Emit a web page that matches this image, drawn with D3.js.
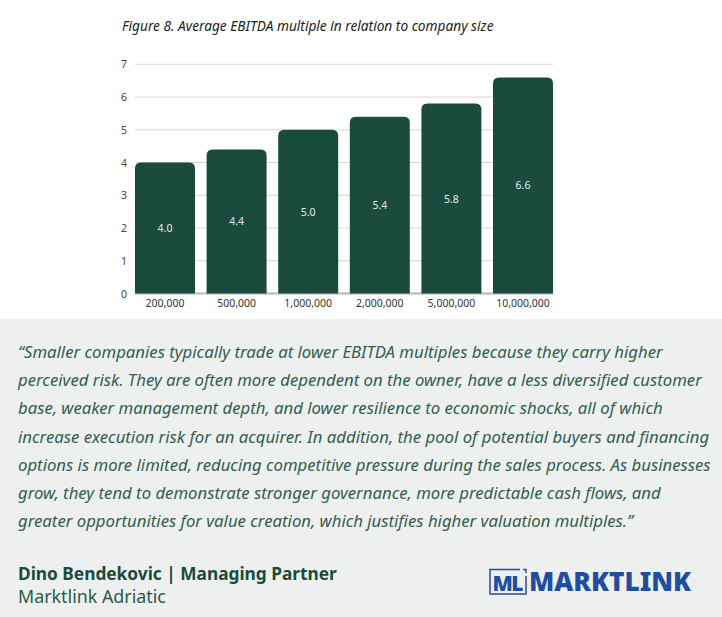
<!DOCTYPE html>
<html>
<head>
<meta charset="utf-8">
<script src="https://cdn.jsdelivr.net/npm/d3@7"></script>
<style>
  body { margin: 0; background: #fff; }
  svg { display: block; }
</style>
</head>
<body>
<svg id="chart" width="722" height="617"></svg>
<script>
// chart data
var sizes = ["200,000", "500,000", "1,000,000", "2,000,000", "5,000,000", "10,000,000"]
var multiples = [4.0, 4.4, 5.0, 5.4, 5.8, 6.6]
var yTicks = [0, 1, 2, 3, 4, 5, 6, 7]

var quoteLines = [
  "\u201cSmaller companies typically trade at lower EBITDA multiples because they carry higher",
  "perceived risk. They are often more dependent on the owner, have a less diversified customer",
  "base, weaker management depth, and lower resilience to economic shocks, all of which",
  "increase execution risk for an acquirer. In addition, the pool of potential buyers and financing",
  "options is more limited, reducing competitive pressure during the sales process. As businesses",
  "grow, they tend to demonstrate stronger governance, more predictable cash flows, and",
  "greater opportunities for value creation, which justifies higher valuation multiples.\u201d"
]

var green = "#1a4b3d"
var font = "'Noto Sans', sans-serif"
var svg = d3.select("#chart")

// scale a text's font size so it spans the wanted width
function fitWidth(sel, wanted) {
  var fs = parseFloat(sel.style("font-size"))
  var w = sel.node().getComputedTextLength()
  sel.style("font-size", (fs * wanted / w) + "px")
}

// title
var title = svg.append("text")
  .attr("x", 122).attr("y", 31)
  .style("font-family", font)
  .style("font-style", "italic")
  .style("font-size", "13px")
  .attr("fill", "#222")
  .text("Figure 8. Average EBITDA multiple in relation to company size")
fitWidth(title, 372)

var plotL = 135, plotR = 553, plotT = 64.3, plotB = 293.5

var x = d3.scaleBand()
  .domain(sizes)
  .range([plotL, plotR])
  .paddingInner(0.162)
  .paddingOuter(0)

var y = d3.scaleLinear()
  .domain([0, 7])
  .range([plotB, plotT])

// gridlines
svg.append("g")
  .selectAll("line")
  .data(yTicks.filter(function(d){ return d > 0 }))
  .enter()
  .append("line")
  .attr("x1", plotL).attr("x2", plotR)
  .attr("y1", function(d){ return y(d) })
  .attr("y2", function(d){ return y(d) })
  .attr("stroke", "#d4d4d4")
  .attr("stroke-width", 1)

// y labels
svg.append("g")
  .selectAll("text")
  .data(yTicks)
  .enter()
  .append("text")
  .attr("x", 124)
  .attr("y", function(d){ return y(d) + 4 })
  .attr("text-anchor", "middle")
  .style("font-family", font)
  .style("font-size", "10.5px")
  .attr("fill", "#444")
  .text(function(d){ return d })

// baseline
svg.append("line")
  .attr("x1", plotL).attr("x2", plotR)
  .attr("y1", plotB).attr("y2", plotB)
  .attr("stroke", "#b8b8b8")
  .attr("stroke-width", 2)

// bars with rounded tops
var r = 6
svg.append("g")
  .selectAll("path")
  .data(multiples)
  .enter()
  .append("path")
  .attr("fill", green)
  .attr("d", function(d, i){
    var x0 = x(sizes[i]), x1 = x0 + x.bandwidth()
    var y0 = y(d), y1 = plotB
    return "M" + x0 + "," + y1 +
      "L" + x0 + "," + (y0 + r) +
      "Q" + x0 + "," + y0 + " " + (x0 + r) + "," + y0 +
      "L" + (x1 - r) + "," + y0 +
      "Q" + x1 + "," + y0 + " " + x1 + "," + (y0 + r) +
      "L" + x1 + "," + y1 + "Z"
  })

// value labels
svg.append("g")
  .selectAll("text")
  .data(multiples)
  .enter()
  .append("text")
  .attr("x", function(d, i){ return x(sizes[i]) + x.bandwidth() / 2 })
  .attr("y", function(d){ return (y(d) + plotB) / 2 + 4 })
  .attr("text-anchor", "middle")
  .style("font-family", font)
  .style("font-size", "10.5px")
  .attr("fill", "#e4ece8")
  .text(function(d){ return d.toFixed(1) })

// x labels
svg.append("g")
  .selectAll("text")
  .data(sizes)
  .enter()
  .append("text")
  .attr("x", function(d){ return x(d) + x.bandwidth() / 2 })
  .attr("y", 307)
  .attr("text-anchor", "middle")
  .style("font-family", font)
  .style("font-size", "10.5px")
  .attr("fill", "#333")
  .text(function(d){ return d })

// quote panel
svg.append("rect")
  .attr("x", 0).attr("y", 319)
  .attr("width", 722).attr("height", 298)
  .attr("fill", "#edf0ee")

var quote = svg.append("g")
  .selectAll("text")
  .data(quoteLines)
  .enter()
  .append("text")
  .attr("x", 18)
  .attr("y", function(d, i){ return 358 + i * 28.2 })
  .style("font-family", font)
  .style("font-style", "italic")
  .style("font-size", "16px")
  .attr("fill", "#325e4f")
  .text(function(d){ return d })
// size all lines from the first one
var q0 = d3.select(quote.nodes()[0])
fitWidth(q0, 645)
quote.style("font-size", q0.style("font-size"))

var author = svg.append("text")
  .attr("x", 18).attr("y", 580)
  .style("font-family", font)
  .style("font-weight", "bold")
  .style("font-size", "17px")
  .attr("fill", green)
  .text("Dino Bendekovic | Managing Partner")
fitWidth(author, 319)

var firm = svg.append("text")
  .attr("x", 18).attr("y", 603)
  .style("font-family", font)
  .style("font-size", "17px")
  .attr("fill", "#2e5a4b")
  .text("Marktlink Adriatic")
fitWidth(firm, 148)

// logo
var blue = "#1f4ea1"
svg.append("path")
  .attr("d", "M520,569.5 L490,569.5 L490,594 L526,594 L526,576")
  .attr("fill", "none")
  .attr("stroke", blue)
  .attr("stroke-width", 1.5)
svg.append("path")
  .attr("d", "M523,569.5 L526,569.5 L526,573")
  .attr("fill", "none")
  .attr("stroke", blue)
  .attr("stroke-width", 1.5)
svg.append("text")
  .attr("x", 492.5).attr("y", 590.5)
  .style("font-family", font)
  .style("font-weight", "900")
  .style("font-size", "21px")
  .style("letter-spacing", "-1.5px")
  .attr("fill", blue)
  .text("ML")
var logo = svg.append("text")
  .attr("x", 529).attr("y", 591)
  .style("font-family", font)
  .style("font-weight", "900")
  .style("font-size", "21px")
  .attr("fill", blue)
  .text("MARKTLINK")
fitWidth(logo, 162)
</script>
</body>
</html>
